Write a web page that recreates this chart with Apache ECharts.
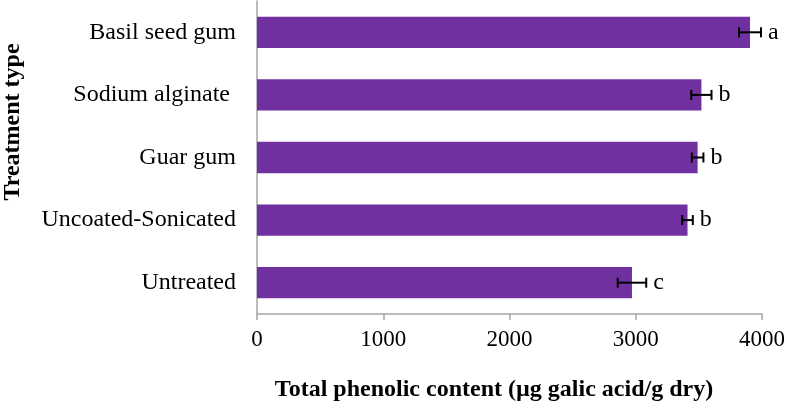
<!DOCTYPE html>
<html>
<head>
<meta charset="utf-8">
<script src="https://cdn.jsdelivr.net/npm/echarts@6/dist/echarts.min.js"></script>
<style>html,body{margin:0;padding:0;background:#fff;}#c{width:787px;height:408px;}</style>
</head>
<body>
<div id="c"></div>
<script>
var categories = ['Untreated', 'Uncoated-Sonicated', 'Guar gum', 'Sodium alginate ', 'Basil seed gum'];
var values = [2970, 3410, 3490, 3520, 3905];
var errors = [113, 42, 46, 80, 87];
var letters = ['c', 'b', 'b', 'b', 'a'];
var xTicks = [0, 1000, 2000, 3000, 4000];
var xTitle = 'Total phenolic content (µg galic acid/g dry)';
var yTitle = 'Treatment type';

var serif = '"Liberation Serif", "Times New Roman", serif';
var chart = echarts.init(document.getElementById('c'), null, {renderer: 'canvas'});
var errData = values.map(function (v, i) { return [i, v, errors[i], letters[i]]; });

chart.setOption({
  animation: false,
  backgroundColor: '#ffffff',
  grid: {left: 257, right: 25, top: 1, bottom: 94, containLabel: false, outerBoundsMode: 'none'},
  graphic: [
    {type: 'text', x: 494, y: 390, z: 20,
      style: {text: xTitle, align: 'center', verticalAlign: 'middle',
        font: 'bold 24px ' + serif, fill: '#000'}},
    {type: 'text', x: 13, y: 122, rotation: Math.PI / 2, z: 20,
      style: {text: yTitle, align: 'center', verticalAlign: 'middle',
        font: 'bold 24px ' + serif, fill: '#000'}}
  ],
  xAxis: {
    type: 'value', min: xTicks[0], max: xTicks[xTicks.length - 1], interval: 1000,
    axisLine: {show: true, lineStyle: {color: '#a6a6a6', width: 1.5}},
    axisTick: {show: true, length: 6, inside: false, lineStyle: {color: '#a6a6a6', width: 1.5}},
    axisLabel: {fontFamily: serif, fontSize: 23, color: '#000', margin: 14,
      formatter: function (v) { return String(v); }},
    splitLine: {show: false}
  },
  yAxis: {
    type: 'category', data: categories,
    axisLine: {show: true, lineStyle: {color: '#a6a6a6', width: 1.5}},
    axisTick: {show: false},
    axisLabel: {fontFamily: serif, fontSize: 24, color: '#000', margin: 21}
  },
  series: [{
    type: 'bar', data: values, barCategoryGap: '50%',
    itemStyle: {color: '#7030A0'}
  }, {
    type: 'custom', data: errData, z: 10,
    renderItem: function (params, api) {
      var ci = api.value(0), v = api.value(1), e = api.value(2);
      var lo = api.coord([v - e, ci]);
      var hi = api.coord([v + e, ci]);
      var y = lo[1], cap = 5;
      var st = {stroke: '#000', lineWidth: 2};
      return {
        type: 'group',
        children: [
          {type: 'line', shape: {x1: lo[0], y1: y, x2: hi[0], y2: y}, style: st},
          {type: 'line', shape: {x1: lo[0], y1: y - cap, x2: lo[0], y2: y + cap}, style: st},
          {type: 'line', shape: {x1: hi[0], y1: y - cap, x2: hi[0], y2: y + cap}, style: st},
          {type: 'text', style: {text: letters[params.dataIndex], x: hi[0] + 7, y: y,
            textVerticalAlign: 'middle', verticalAlign: 'middle', align: 'left',
            font: '24px ' + serif, fill: '#000'}}
        ]
      };
    }
  }]
});
</script>
</body>
</html>
